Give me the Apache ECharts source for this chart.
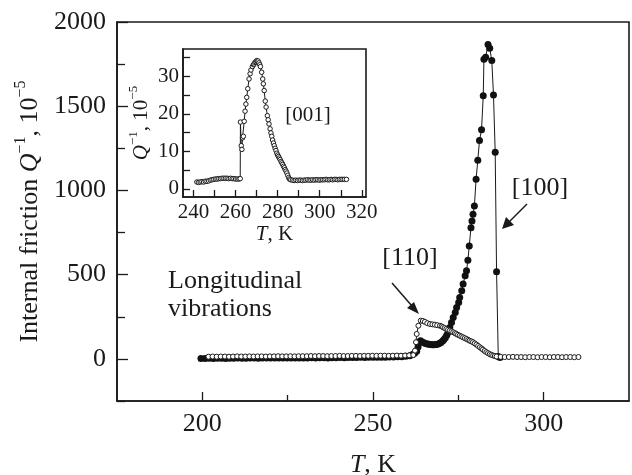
<!DOCTYPE html>
<html>
<head>
<meta charset="utf-8">
<script src="https://cdn.jsdelivr.net/npm/echarts@6/dist/echarts.min.js"></script>
<style>
  html, body { margin: 0; padding: 0; background: #fff; }
  #chart { width: 632px; height: 475px; }
</style>
</head>
<body>
<div id="chart"></div>
<script>
// [100] orientation, longitudinal vibrations: temperature (K) and Q^-1 (1e-5)
const t100 = [
  199.6, 200.8, 202.0, 203.2, 204.4, 205.6, 206.8, 208.0, 209.2, 210.4, 211.6, 212.8, 214.0,
  215.2, 216.4, 217.6, 218.8, 220.0, 221.2, 222.4, 223.6, 224.8, 226.0, 227.2, 228.4, 229.6,
  230.8, 232.0, 233.2, 234.4, 235.6, 236.8, 238.0, 239.2, 240.4, 241.6, 242.8, 244.0, 245.2,
  246.4, 247.6, 248.8, 250.0, 251.2, 252.4, 253.6, 254.8, 256.0, 257.2, 258.4, 259.6, 260.8,
  261.6, 262.2, 262.8, 263.2, 263.6, 263.9, 264.4, 264.9, 265.4, 265.9, 266.4, 266.9, 267.4,
  267.9, 268.4, 268.9, 269.4, 269.9, 270.4, 270.8, 271.2, 271.6, 272.0, 272.5, 273.0, 273.5,
  274.1, 274.5, 275.1, 275.4, 276.0, 276.4, 277.0, 277.4, 277.8, 278.2, 278.7, 279.0, 279.3,
  279.7, 280.2, 280.7, 281.2, 281.8, 282.3, 282.5, 283.0, 283.7, 284.2, 284.8, 285.3, 285.8,
  286.2, 286.7, 287.2
];
const q100 = [
  3, 3, 4, 3, 4, 4, 3, 4, 4, 5, 4, 4, 5,
  5, 4, 5, 5, 5, 5, 6, 5, 6, 6, 5, 6, 6,
  6, 7, 6, 7, 7, 6, 7, 7, 8, 7, 8, 8, 8,
  9, 8, 9, 9, 10, 9, 10, 11, 11, 12, 13, 15, 19,
  26, 34, 45, 70, 100, 108, 101, 96, 92, 89, 87, 85, 84,
  84, 85, 87, 92, 98, 106, 115, 126, 140, 158, 186, 216, 246,
  276, 305, 335, 365, 404, 444, 493, 523, 586, 670, 779, 818, 858,
  907, 1067, 1179, 1296, 1361, 1562, 1779, 1791, 1867, 1844, 1771, 1566, 1227,
  517, 14, 8
];

// [110] orientation
const t110 = [
  201.8, 203.0, 204.2, 205.4, 206.6, 207.8, 209.0, 210.2, 211.4, 212.6, 213.8, 215.0, 216.2,
  217.4, 218.6, 219.8, 221.0, 222.2, 223.4, 224.6, 225.8, 227.0, 228.2, 229.4, 230.6, 231.8,
  233.0, 234.2, 235.4, 236.6, 237.8, 239.0, 240.2, 241.4, 242.6, 243.8, 245.0, 246.2, 247.4,
  248.6, 249.8, 251.0, 252.2, 253.4, 254.6, 255.8, 257.0, 258.2, 259.4, 260.6, 261.8,
  262.3, 262.6, 262.8, 263.3, 264.0, 264.6, 265.2, 265.9, 266.7, 267.4, 268.1, 268.8, 269.6,
  270.1, 270.5, 271.0, 271.5, 272.0, 272.5, 273.0, 273.5, 274.0, 274.4, 274.9, 275.4, 275.9,
  276.4, 276.9, 277.4, 277.9, 278.3, 278.8, 279.3, 279.8, 280.3, 280.8, 281.3, 281.8, 282.2,
  282.7, 283.2, 283.7, 284.2, 284.7, 285.2, 285.7, 286.2, 287.4, 288.6, 289.8, 291.0, 292.2,
  293.4, 294.6, 295.8, 297.0, 298.2, 299.4, 300.6, 301.8, 303.0, 304.2, 305.4, 306.6, 307.8,
  309.0, 310.2
];
const q110 = [
  13, 14, 13, 14, 14, 13, 14, 15, 14, 14, 15, 14, 15,
  15, 14, 15, 15, 16, 15, 15, 16, 15, 16, 16, 16, 17,
  16, 17, 17, 16, 17, 17, 18, 17, 17, 18, 18, 17, 18,
  18, 19, 18, 19, 19, 18, 19, 20, 19, 20, 21, 23,
  49, 99, 148, 197, 227, 225, 220, 212, 207, 205, 203, 200, 197,
  193, 188, 183, 178, 173, 168, 163, 158, 153, 148, 143, 138, 133,
  128, 123, 118, 113, 108, 104, 99, 92, 85, 77, 69, 62, 55,
  47, 40, 34, 28, 24, 20, 17, 14, 12, 11, 11, 12, 11,
  11, 10, 11, 11, 10, 11, 11, 10, 11, 11, 10, 11, 11,
  10, 11
];

// [001] orientation (inset)
const t001 = [
  241.6, 242.4, 243.2, 244.0, 244.8, 245.6, 246.4, 247.2, 248.0, 248.8, 249.6, 250.4, 251.2,
  252.0, 252.8, 253.6, 254.4, 255.2, 256.0, 256.8, 257.6, 258.4, 259.2, 260.0, 260.8, 261.6,
  262.2, 262.3, 262.7, 263.0, 263.3, 263.7, 264.1, 264.5, 264.9, 265.3, 265.8, 266.4, 266.9,
  267.3, 268.0, 268.5, 268.8, 269.2, 269.6, 270.0, 270.3, 270.7, 271.1, 271.5, 271.8, 272.4,
  272.9, 273.2, 273.6, 274.1, 274.5, 275.1, 275.5, 275.9, 276.4, 276.8, 277.2, 277.6, 278.0,
  278.4, 278.8, 279.2, 279.6, 280.0, 280.4, 280.8, 281.2, 281.6, 282.0, 282.4, 282.8, 283.2,
  283.6, 284.0, 284.4, 284.8, 285.2, 285.6, 286.2, 287.0, 287.8, 288.6, 289.4, 290.2, 291.0,
  291.8, 292.6, 293.4, 294.2, 295.0, 295.8, 296.6, 297.4, 298.2, 299.0, 299.8, 300.6, 301.4,
  302.2, 303.0, 303.8, 304.6, 305.4, 306.2, 307.0, 307.8, 308.6, 309.4, 310.2, 311.0, 311.8,
  312.7
];
const q001 = [
  1.8, 1.7, 1.8, 1.9, 1.8, 2.0, 2.0, 2.1, 2.3, 2.4, 2.5, 2.6, 2.6,
  2.7, 2.7, 2.8, 2.8, 2.8, 2.8, 2.7, 2.8, 2.7, 2.7, 2.6, 2.6, 2.6,
  2.7, 17.8, 11.5, 10.5, 13.6, 14.0, 18.0, 20.7, 22.6, 24.4, 26.7, 29.3, 30.7,
  31.7, 32.6, 33.1, 33.3, 33.7, 33.9, 34.2, 34.0, 34.1, 33.6, 33.1, 32.6, 31.1,
  29.3, 28.0, 26.2, 23.4, 21.8, 19.5, 18.4, 17.3, 16.0, 14.9, 14.0, 13.0, 12.2,
  11.5, 10.8, 10.2, 9.5, 9.0, 8.6, 8.2, 7.8, 7.3, 6.9, 6.5, 6.0, 5.6,
  5.1, 4.7, 4.2, 3.6, 3.0, 2.6, 2.4, 2.3, 2.2, 2.3, 2.2, 2.3, 2.3,
  2.2, 2.3, 2.3, 2.4, 2.3, 2.3, 2.4, 2.3, 2.4, 2.4, 2.3, 2.4, 2.4,
  2.4, 2.5, 2.4, 2.4, 2.5, 2.4, 2.5, 2.5, 2.4, 2.5, 2.5, 2.5, 2.5,
  2.5
];

// Axis ticks and labels
const mainXLabels = [200, 250, 300];
const mainXMinor = [225, 275];
const mainYLabels = [0, 500, 1000, 1500, 2000];
const mainYMinor = [-250, 250, 750, 1250, 1750];
const insetXTicks = [240, 250, 260, 270, 280, 290, 300, 310, 320];
const insetXLabels = [240, 260, 280, 300, 320];
const insetYTicks = [0, 5, 10, 15, 20, 25, 30, 35];
const insetYLabels = [0, 10, 20, 30];

const pairs = (xs, ys) => xs.map((x, i) => [x, ys[i]]);

const SERIF = '"Liberation Serif", "DejaVu Serif", serif';
const INK = '#1a1a1a';
const BIG = 26;
const SMALL = 21;

function supRich(size) {
  return {
    n: { fontFamily: SERIF, fontSize: size, color: INK, lineHeight: size + 8 },
    i: { fontFamily: SERIF, fontSize: size, fontStyle: 'italic', color: INK, lineHeight: size + 8 },
    s: { fontFamily: SERIF, fontSize: Math.round(size * 0.62), color: INK,
         lineHeight: Math.round(size * 0.62), verticalAlign: 'top' }
  };
}

// axis that carries labels (and optionally the title), no ticks
function labelAxis(grid, min, max, pos, labels, size, margin, extra) {
  return Object.assign({
    type: 'value', gridIndex: grid, min: min, max: max, position: pos,
    splitLine: { show: false },
    axisLine: { show: true, onZero: false, lineStyle: { color: INK, width: 1.6 } },
    axisTick: { show: false },
    axisLabel: { show: true, color: INK, fontFamily: SERIF, fontSize: size, margin: margin,
                 customValues: labels, formatter: v => String(v) }
  }, extra || {});
}

// axis that only draws inward ticks at the given values
function tickAxis(grid, min, max, pos, ticks, len) {
  return {
    type: 'value', gridIndex: grid, min: min, max: max, position: pos,
    splitLine: { show: false },
    axisLine: { show: false, onZero: false },
    axisLabel: { show: false },
    axisTick: { show: true, inside: true, length: len, customValues: ticks,
                lineStyle: { color: INK, width: 1.3 } }
  };
}

const chart = echarts.init(document.getElementById('chart'), null, { renderer: 'canvas' });

const option = {
  animation: false,
  backgroundColor: '#fff',
  grid: [
    { left: 117, top: 22, width: 512, height: 379, show: true, outerBoundsMode: 'none',
      borderColor: INK, borderWidth: 1.6, backgroundColor: 'transparent' },
    { left: 183, top: 49, width: 183, height: 148, show: true, outerBoundsMode: 'none',
      borderColor: INK, borderWidth: 1.6, backgroundColor: '#fff' }
  ],
  xAxis: [
    labelAxis(0, 175, 325, 'bottom', mainXLabels, BIG, 10, {
      name: '{i|T}{n|, K}', nameLocation: 'middle', nameGap: 47,
      nameTextStyle: { rich: supRich(BIG) }
    }),
    tickAxis(0, 175, 325, 'bottom', mainXLabels, 9),
    tickAxis(0, 175, 325, 'bottom', mainXMinor, 6),
    labelAxis(1, 235, 322, 'bottom', insetXLabels, SMALL, 5, {
      name: '{i|T}{n|, K}', nameLocation: 'middle', nameGap: 22,
      nameTextStyle: { rich: supRich(SMALL) }
    }),
    tickAxis(1, 235, 322, 'bottom', insetXTicks, 7)
  ],
  yAxis: [
    labelAxis(0, -250, 2000, 'left', mainYLabels, BIG, 11, {
      name: '{n|Internal friction }{i|Q}{s|−1}{n|, 10}{s|−5}',
      nameLocation: 'middle', nameRotate: 90, nameGap: 66,
      nameTextStyle: { rich: supRich(BIG) }
    }),
    tickAxis(0, -250, 2000, 'left', mainYLabels, 11),
    tickAxis(0, -250, 2000, 'left', mainYMinor, 8),
    labelAxis(1, -2.2, 37.3, 'left', insetYLabels, SMALL, 4, {
      name: '{i|Q}{s|−1}{n|, 10}{s|−5}',
      nameLocation: 'middle', nameRotate: 90, nameGap: 27,
      nameTextStyle: { rich: supRich(SMALL) }
    }),
    tickAxis(1, -2.2, 37.3, 'left', insetYTicks, 7)
  ],
  series: [
    {
      name: '[100]', type: 'line', xAxisIndex: 0, yAxisIndex: 0,
      data: pairs(t100, q100),
      showAllSymbol: true, symbol: 'circle', symbolSize: 7,
      lineStyle: { color: INK, width: 1 },
      itemStyle: { color: '#111', borderColor: '#111', borderWidth: 0 },
      z: 3
    },
    {
      name: '[110]', type: 'line', xAxisIndex: 0, yAxisIndex: 0,
      data: pairs(t110, q110),
      showAllSymbol: true, symbol: 'circle', symbolSize: 5,
      lineStyle: { color: INK, width: 1 },
      itemStyle: { color: '#fff', borderColor: INK, borderWidth: 1 },
      z: 4
    },
    {
      name: '[001]', type: 'line', xAxisIndex: 3, yAxisIndex: 3,
      data: pairs(t001, q001),
      showAllSymbol: true, symbol: 'circle', symbolSize: 4.5,
      lineStyle: { color: INK, width: 1 },
      itemStyle: { color: '#fff', borderColor: INK, borderWidth: 1 },
      z: 5
    }
  ],
  graphic: [
    { type: 'text', left: 168, top: 267, z: 10,
      style: { text: 'Longitudinal\nvibrations', font: BIG + 'px ' + SERIF, fill: INK, lineHeight: 28 } },
    { type: 'text', x: 410, y: 258, z: 10,
      style: { text: '[110]', font: BIG + 'px ' + SERIF, fill: INK, align: 'center', verticalAlign: 'middle' } },
    { type: 'text', x: 540, y: 188, z: 10,
      style: { text: '[100]', font: BIG + 'px ' + SERIF, fill: INK, align: 'center', verticalAlign: 'middle' } },
    { type: 'text', x: 308, y: 115, z: 10,
      style: { text: '[001]', font: SMALL + 'px ' + SERIF, fill: INK, align: 'center', verticalAlign: 'middle' } },
    // arrow towards the [110] curve
    { type: 'line', z: 10, shape: { x1: 392, y1: 283, x2: 412, y2: 306 },
      style: { stroke: INK, lineWidth: 1.5 } },
    { type: 'polygon', z: 10, shape: { points: [[419, 314], [407, 308], [414, 302]] },
      style: { fill: INK } },
    // arrow towards the [100] curve
    { type: 'line', z: 10, shape: { x1: 527, y1: 204, x2: 509, y2: 222 },
      style: { stroke: INK, lineWidth: 1.5 } },
    { type: 'polygon', z: 10, shape: { points: [[502, 229], [506, 217], [514, 225]] },
      style: { fill: INK } }
  ]
};

chart.setOption(option);
</script>
</body>
</html>
